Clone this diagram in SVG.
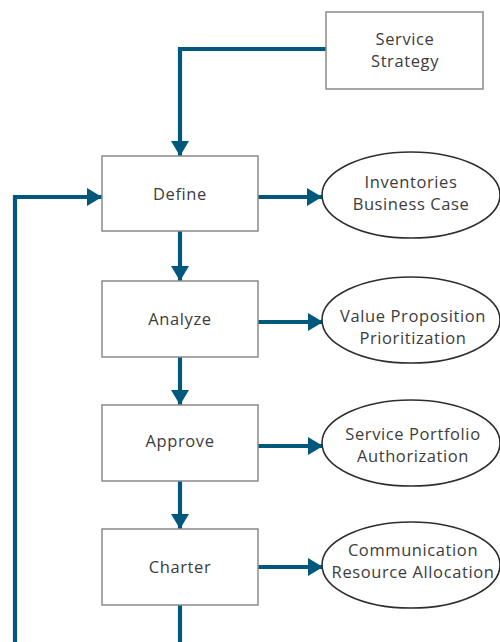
<svg xmlns="http://www.w3.org/2000/svg" width="500" height="642" viewBox="0 0 500 642">
<style>
.box{fill:#fff;stroke:#8a8a8a;stroke-width:1.5}
.ell{fill:#fff;stroke:#2e2e2e;stroke-width:1.6}
.t{font-family:"Open Sans","Noto Sans",sans-serif;font-size:16.5px;letter-spacing:0.6px;fill:#3c3c3c;text-anchor:middle}
.c{fill:none;stroke:#00587c;stroke-width:4.2}
</style>
<defs>
<marker id="ah" markerUnits="userSpaceOnUse" markerWidth="16" markerHeight="18" refX="15" refY="9" orient="auto">
<path d="M0,0 L15,9 L0,18 Z" fill="#00587c"/>
</marker>
</defs>
<rect width="500" height="642" fill="#fff"/>
<g id="connectors">
<path class="c" d="M326,49 H180 V156" marker-end="url(#ah)"/>
<path class="c" d="M15,642 V197 H102" marker-end="url(#ah)"/>
<path class="c" d="M258,197 H322" marker-end="url(#ah)"/>
<path class="c" d="M180,231 V281" marker-end="url(#ah)"/>
<path class="c" d="M258,322 H323" marker-end="url(#ah)"/>
<path class="c" d="M180,357 V405" marker-end="url(#ah)"/>
<path class="c" d="M258,446 H323" marker-end="url(#ah)"/>
<path class="c" d="M180,481 V529" marker-end="url(#ah)"/>
<path class="c" d="M258,567 H323" marker-end="url(#ah)"/>
<path class="c" d="M180,605 V642"/>
</g>
<g id="service-strategy">
<rect class="box" x="326" y="12" width="157" height="77"/>
<text class="t" x="405" y="45">Service</text>
<text class="t" x="405" y="67">Strategy</text>
</g>
<g id="define">
<rect class="box" x="102" y="156" width="156" height="75"/>
<text class="t" x="180" y="200">Define</text>
</g>
<g id="inventories">
<ellipse class="ell" cx="411" cy="195" rx="89" ry="43"/>
<text class="t" x="411" y="188">Inventories</text>
<text class="t" x="411" y="210">Business Case</text>
</g>
<g id="analyze">
<rect class="box" x="102" y="281" width="156" height="76"/>
<text class="t" x="180" y="325">Analyze</text>
</g>
<g id="value-proposition">
<ellipse class="ell" cx="411" cy="320" rx="89" ry="43"/>
<text class="t" x="413" y="322">Value Proposition</text>
<text class="t" x="413" y="344">Prioritization</text>
</g>
<g id="approve">
<rect class="box" x="102" y="405" width="156" height="76"/>
<text class="t" x="180" y="447">Approve</text>
</g>
<g id="service-portfolio">
<ellipse class="ell" cx="411" cy="443" rx="89" ry="43"/>
<text class="t" x="413" y="440">Service Portfolio</text>
<text class="t" x="413" y="462">Authorization</text>
</g>
<g id="charter">
<rect class="box" x="102" y="529" width="156" height="76"/>
<text class="t" x="180" y="573">Charter</text>
</g>
<g id="communication">
<ellipse class="ell" cx="411" cy="565" rx="89" ry="43"/>
<text class="t" x="413" y="556">Communication</text>
<text class="t" x="413" y="578">Resource Allocation</text>
</g>
</svg>
